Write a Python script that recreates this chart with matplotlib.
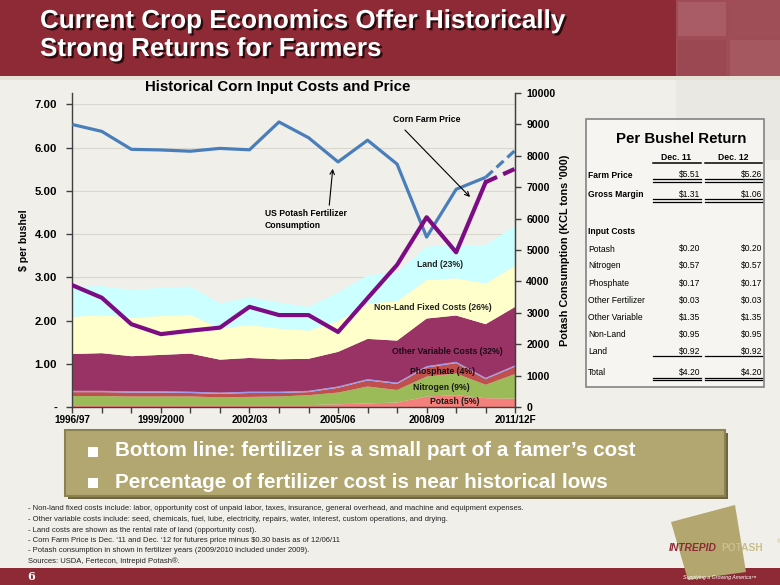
import matplotlib
matplotlib.use("Agg")
import matplotlib.pyplot as plt
from matplotlib import font_manager
from matplotlib.patches import Rectangle, Polygon, FancyArrowPatch
from matplotlib.lines import Line2D
import matplotlib.patheffects as pe

# ---------------- data ----------------
seasons = ['1996/97', '1997/98', '1998/99', '1999/2000', '2000/01', '2001/02',
           '2002/03', '2003/04', '2004/05', '2005/06', '2006/07', '2007/08',
           '2008/09', '2009/10', '2010/11', '2011/12F']
tick_labels = ['1996/97', '1999/2000', '2002/03', '2005/06', '2008/09', '2011/12F']
left_ticks = [0, 1, 2, 3, 4, 5, 6, 7]
left_tick_labels = ['-', '1.00', '2.00', '3.00', '4.00', '5.00', '6.00', '7.00']
right_ticks = [0, 1000, 2000, 3000, 4000, 5000, 6000, 7000, 8000, 9000, 10000]
right_tick_labels = ['0', '1000', '2000', '3000', '4000', '5000', '6000', '7000',
                     '8000', '9000', '10000']

potash = [0.05, 0.05, 0.05, 0.05, 0.05, 0.05, 0.05, 0.05, 0.05, 0.07, 0.09, 0.11, 0.25, 0.28, 0.21, 0.20]
nitrogen = [0.21, 0.21, 0.20, 0.20, 0.20, 0.18, 0.19, 0.20, 0.23, 0.27, 0.39, 0.29, 0.46, 0.50, 0.31, 0.57]
phosphate = [0.09, 0.09, 0.09, 0.09, 0.08, 0.08, 0.09, 0.08, 0.07, 0.11, 0.14, 0.14, 0.21, 0.24, 0.13, 0.17]
other_fertilizer = [0.03, 0.03, 0.03, 0.03, 0.03, 0.03, 0.03, 0.03, 0.03, 0.03, 0.03, 0.03, 0.03, 0.03, 0.03, 0.03]
other_variable = [0.85, 0.87, 0.81, 0.84, 0.88, 0.76, 0.78, 0.75, 0.74, 0.80, 0.93, 0.97, 1.10, 1.07, 1.24, 1.35]
non_land = [0.86, 0.88, 0.89, 0.90, 0.90, 0.72, 0.76, 0.71, 0.65, 0.71, 0.82, 0.91, 0.89, 0.86, 0.94, 0.95]
land = [0.69, 0.67, 0.64, 0.65, 0.65, 0.58, 0.64, 0.60, 0.55, 0.66, 0.65, 0.67, 0.77, 0.77, 0.89, 0.92]
corn_price = [2.82, 2.53, 1.92, 1.69, 1.77, 1.84, 2.32, 2.13, 2.13, 1.74, 2.52, 3.29, 4.39, 3.58, 5.20, 5.51]
potash_consumption = [8990, 8770, 8200, 8180, 8140, 8230, 8185, 9070, 8570, 7800, 8490, 7730, 5410, 6930, 7310, 8170]

table_labels = ['Farm Price', 'Gross Margin', 'Input Costs', 'Potash', 'Nitrogen', 'Phosphate',
                'Other Fertilizer', 'Other Variable', 'Non-Land', 'Land', 'Total']
dec11_values = ['$5.51', '$1.31', '', '$0.20', '$0.57', '$0.17', '$0.03', '$1.35', '$0.95', '$0.92', '$4.20']
dec12_values = ['$5.26', '$1.06', '', '$0.20', '$0.57', '$0.17', '$0.03', '$1.35', '$0.95', '$0.92', '$4.20']

footnotes = [
    "- Non-land fixed costs include: labor, opportunity cost of unpaid labor, taxes, insurance, general overhead, and machine and equipment expenses.",
    "- Other variable costs include: seed, chemicals, fuel, lube, electricity, repairs, water, interest, custom operations, and drying.",
    "- Land costs are shown as the rental rate of land (opportunity cost).",
    "- Corn Farm Price is Dec. \u201811 and Dec. \u201812 for futures price minus \\$0.30 basis as of 12/06/11",
    "- Potash consumption in shown in fertilizer years (2009/2010 included under 2009).",
    "Sources: USDA, Fertecon, Intrepid Potash\u00ae.",
]

# ---------------- fonts ----------------
names = set(f.name for f in font_manager.fontManager.ttflist)
SANS = 'Liberation Sans' if 'Liberation Sans' in names else 'DejaVu Sans'
NARROW = 'Liberation Sans Narrow' if 'Liberation Sans Narrow' in names else SANS
plt.rcParams['font.family'] = [SANS, 'DejaVu Sans']

W, H = 780, 585
fig = plt.figure(figsize=(W / 100, H / 100), dpi=100, facecolor='#F0EFEA')
renderer = fig.canvas.get_renderer()


def X(px):
    return px / W


def Y(py):
    return 1 - py / H


def rect(x, y, w, h, **kw):
    r = Rectangle((X(x), Y(y + h)), w / W, h / H, transform=fig.transFigure, **kw)
    fig.patches.append(r)
    return r


def fit(s, width, weight='bold', family=None, style='normal'):
    family = family or SANS
    t = fig.text(0, 0, s, fontsize=10, fontweight=weight, family=family, style=style)
    w = t.get_window_extent(renderer=renderer).width
    t.remove()
    return 10.0 * width / w


def txt(x, y, s, size, ha='left', va='center', weight='normal', color='black', family=None, **kw):
    return fig.text(X(x), Y(y), s, fontsize=size, ha=ha, va=va, fontweight=weight,
                    color=color, family=family or SANS, **kw)


def hline(x0, x1, y, color='black', lw=1.0, z=4):
    fig.lines.append(Line2D([X(x0), X(x1)], [Y(y), Y(y)], transform=fig.transFigure,
                            color=color, lw=lw, zorder=z))


# ---------------- slide decoration ----------------
rect(0, 0, 780, 76, facecolor='#8E2A35', edgecolor='none', zorder=-5)
# faded photo collage on the right of the title band
rect(676, 0, 104, 76, facecolor='#A2505A', edgecolor='none', zorder=-4, alpha=0.9)
rect(678, 2, 48, 34, facecolor='#AE646C', edgecolor='none', zorder=-4, alpha=0.7)
rect(730, 2, 50, 34, facecolor='#A0505A', edgecolor='none', zorder=-4, alpha=0.7)
rect(678, 40, 48, 36, facecolor='#9A4752', edgecolor='none', zorder=-4, alpha=0.7)
rect(730, 40, 50, 36, facecolor='#AA5E67', edgecolor='none', zorder=-4, alpha=0.7)
rect(0, 76, 780, 4, facecolor='#E6E2D6', edgecolor='none', zorder=-4)
rect(676, 80, 104, 80, facecolor='#DEDBD4', edgecolor='none', zorder=-4, alpha=0.35)
# footer band
rect(0, 568, 780, 17, facecolor='#8E2A35', edgecolor='none', zorder=-5)

# title
tsize = fit("Current Crop Economics Offer Historically", 525, family=NARROW)
shadow = [pe.withSimplePatchShadow(offset=(1.6, -1.6), shadow_rgbFace='black', alpha=0.7)]
txt(40, 21, "Current Crop Economics Offer Historically", tsize, weight='bold', color='white',
    family=NARROW, path_effects=shadow)
txt(40, 49, "Strong Returns for Farmers", tsize, weight='bold', color='white',
    family=NARROW, path_effects=shadow)

# ---------------- chart ----------------
x0, x1 = 72.3, 515.2
y0, ytop = 407.3, 92.7
ax = fig.add_axes([X(x0), Y(y0), (x1 - x0) / W, (y0 - ytop) / H])
ax.set_facecolor('none')
xs = list(range(len(seasons)))
stack_colors = ['#F47F7B', '#9BBB59', '#C0504D', '#9A9AF0', '#993366', '#FFFFCC', '#CCFFFF']
ax.stackplot(xs, potash, nitrogen, phosphate, other_fertilizer, other_variable, non_land, land,
             colors=stack_colors, linewidth=0, zorder=2)
ax.set_xlim(0, len(seasons) - 1)
ax.set_ylim(0, 314.6 / 43.3)
ax.set_axisbelow(True)
ax.yaxis.grid(True, color='#D9D7D0', lw=0.8)
ax.set_yticks(left_ticks)
ax.set_yticklabels(left_tick_labels)
ax.set_xticks(xs)
ax.set_xticklabels([s if s in tick_labels else '' for s in seasons])
for sp in ['left', 'bottom', 'right']:
    ax.spines[sp].set_color('#404040')
    ax.spines[sp].set_linewidth(1.0)
ax.spines['top'].set_visible(False)
ax.tick_params(axis='y', direction='out', length=4, width=1, color='#404040', pad=7,
               labelsize=8.2)
ax.tick_params(axis='x', direction='out', length=4, width=1, color='#404040', pad=1.5,
               labelsize=7.2)
for lab in ax.get_yticklabels() + ax.get_xticklabels():
    lab.set_fontweight('bold')
ax.set_ylabel('\\$ per bushel', fontsize=7.6, fontweight='bold')
ax.yaxis.set_label_coords(-0.097, 0.53)

ax2 = ax.twinx()
ax2.set_ylim(0, 10000)
ax2.set_yticks(right_ticks)
ax2.set_yticklabels(right_tick_labels)
for sp in ['left', 'bottom', 'top']:
    ax2.spines[sp].set_visible(False)
ax2.spines['right'].set_color('#404040')
ax2.tick_params(axis='y', direction='out', length=4, width=1, color='#404040', pad=4,
                labelsize=7.6)
for lab in ax2.get_yticklabels():
    lab.set_fontweight('bold')
ax2.set_ylabel("Potash Consumption (KCL tons '000)", fontsize=7.8, fontweight='bold',
               rotation=90, labelpad=3)
ax2.plot(xs[:-1], potash_consumption[:-1], color='#4A7EBB', lw=2.3, solid_joinstyle='round',
         solid_capstyle='butt')
ax2.plot(xs[-2:], potash_consumption[-2:], color='#4A7EBB', lw=2.3, ls=(0, (3, 1.6)))

ax3 = ax.twinx()
ax3.set_ylim(ax.get_ylim())
ax3.axis('off')
ax3.plot(xs[:-1], corn_price[:-1], color='#7D0C84', lw=3.0, solid_joinstyle='round')
ax3.plot(xs[-2:], corn_price[-2:], color='#7D0C84', lw=3.0, ls=(0, (3, 1.6)))

# chart title
ctsize = fit("Historical Corn Input Costs and Price", 267)
txt(277.5, 87.5, "Historical Corn Input Costs and Price", ctsize, ha='center', weight='bold')

# annotations
asz = fit("Corn Farm Price", 67)
txt(393, 120, "Corn Farm Price", asz, weight='bold')
fig.add_artist(FancyArrowPatch((X(403), Y(128)), (X(472), Y(199)),
               transform=fig.transFigure, arrowstyle='->', mutation_scale=8, lw=0.8,
               color='black'))
txt(265, 214, "US Potash Fertilizer", asz, weight='bold')
txt(265, 225, "Consumption", asz, weight='bold')
fig.add_artist(FancyArrowPatch((X(329), Y(208)), (X(333), Y(166)),
               transform=fig.transFigure, arrowstyle='->', mutation_scale=8, lw=0.8,
               color='black'))

lsz = fit("Other Variable Costs (32%)", 111)
txt(440, 265, "Land (23%)", lsz, ha='center', weight='bold', color='#222222')
txt(433, 307, "Non-Land Fixed Costs (26%)", lsz, ha='center', weight='bold', color='#222222')
txt(447, 351, "Other Variable Costs (32%)", lsz, ha='center', weight='bold', color='#1A0A12')
txt(442, 371, "Phosphate (4%)", lsz, ha='center', weight='bold', color='#1A0A12')
txt(441, 387, "Nitrogen (9%)", lsz, ha='center', weight='bold', color='#1A1A1A')
txt(455, 401, "Potash (5%)", lsz, ha='center', weight='bold', color='#1A1A1A')

# ---------------- table ----------------
rect(586, 119, 178, 268, facecolor='#F7F6F2', edgecolor='#7A7A7A', lw=1.2, zorder=-3, alpha=0.92)
txt(681, 139, "Per Bushel Return", fit("Per Bushel Return", 131), ha='center', weight='bold')
hsz = fit("Dec. 11", 30)
txt(676.5, 157.5, "Dec. 11", hsz, ha='center', weight='bold')
txt(733.5, 157.5, "Dec. 12", hsz, ha='center', weight='bold')
hline(653, 701, 162.5, lw=1.1)
hline(705, 762, 162.5, lw=1.1)
rsz = fit("Other Fertilizer", 57, weight='normal')
row_y = [175, 195, 231.7, 249, 265.7, 283, 300.3, 317.3, 334.3, 351.3, 372.3]
bold_rows = {'Farm Price', 'Gross Margin', 'Input Costs'}
for lab, v1, v2, yy in zip(table_labels, dec11_values, dec12_values, row_y):
    txt(588, yy, lab, rsz, weight='bold' if lab in bold_rows else 'normal')
    if v1:
        txt(700, yy, v1.replace('$', '\\$'), rsz, ha='right')
        txt(762, yy, v2.replace('$', '\\$'), rsz, ha='right')
for yy in [179.3, 181.6, 199.3, 201.6, 377.6, 379.9]:
    hline(653, 701, yy, lw=0.9)
    hline(705, 762, yy, lw=0.9)
hline(653, 701, 356, lw=0.9)
hline(705, 762, 356, lw=0.9)

# ---------------- bullet box ----------------
rect(68, 433, 660, 66, facecolor='#6E6540', edgecolor='none', zorder=-3)
rect(65, 430, 660, 66, facecolor='#B3A771', edgecolor='#8C8150', lw=1.5, zorder=-2)
bsz = fit("Bottom line: fertilizer is a small part of a famer\u2019s cost", 520, family=NARROW)
for yy, s in [(451, "Bottom line: fertilizer is a small part of a famer\u2019s cost"),
              (482, "Percentage of fertilizer cost is near historical lows")]:
    rect(88, yy - 4, 10, 10, facecolor='white', edgecolor='none', zorder=-1)
    txt(115, yy, s, bsz, weight='bold', color='white', family=NARROW)

# ---------------- footnotes ----------------
fsz = fit(footnotes[0], 494, weight='normal', family=NARROW)
for yy, s in zip([509, 519.5, 530, 540.5, 551, 561.5], footnotes):
    txt(28, yy, s, fsz, color='#222222', family=NARROW)

# ---------------- footer / logo ----------------
txt(27, 576, "6", 8, color='white', weight='bold', family='DejaVu Serif')
fig.patches.append(Polygon([(X(671), Y(522)), (X(735), Y(505)), (X(746), Y(572)), (X(688), Y(580))],
                           closed=True, transform=fig.transFigure, facecolor='#B3A66E',
                           edgecolor='none', zorder=-1))
lg = fit("INTREPID", 48, style='italic')
txt(669, 548, "INTREPID", lg, weight='bold', color='#8E2A35', style='italic')
txt(721, 548, "POTASH", lg, weight='bold', color='#C9BE8E')
txt(777, 542, "\u00ae", 4, color='#C9BE8E')
txt(757, 578, "Supplying a Growing America\u2122", 3.8, ha='right', color='white', style='italic')

fig.savefig('out.png', dpi=100, facecolor=fig.get_facecolor())
